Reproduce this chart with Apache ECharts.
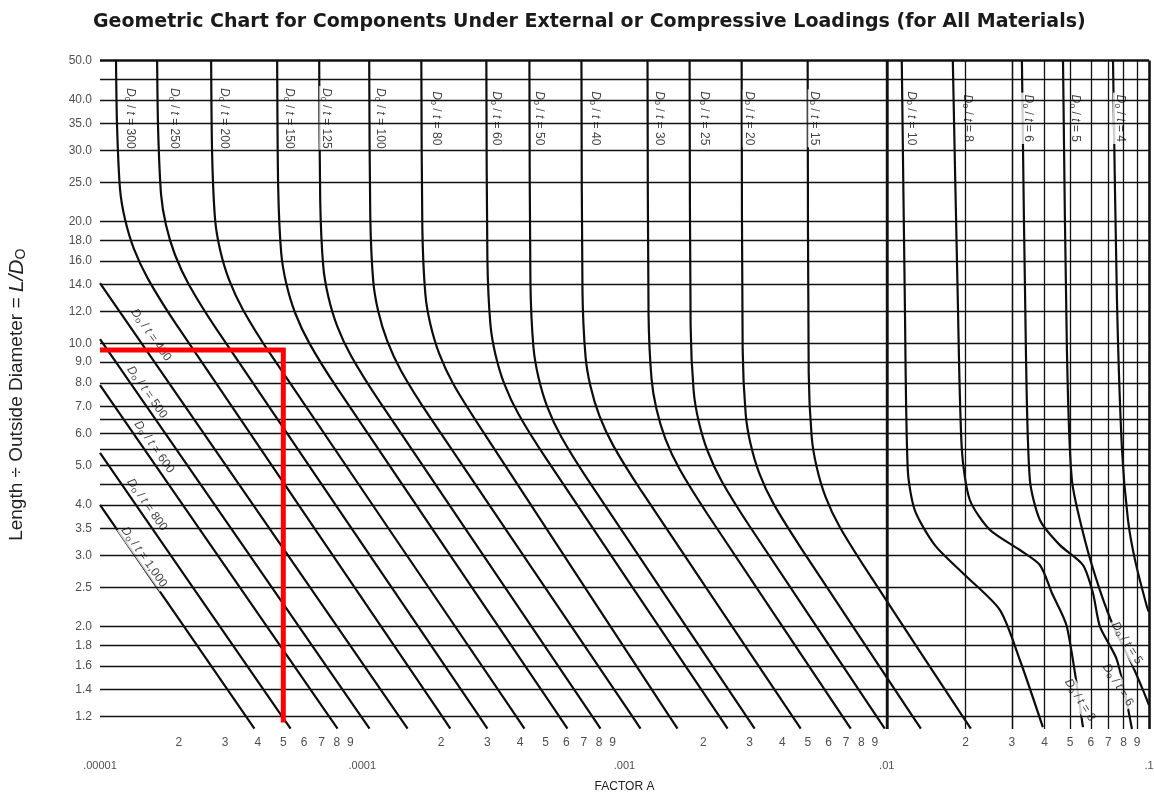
<!DOCTYPE html>
<html><head><meta charset="utf-8">
<script src="https://cdn.jsdelivr.net/npm/echarts@6/dist/echarts.min.js"></script>
<style>html,body{margin:0;padding:0;background:#fff}#c{width:1154px;height:796px}</style>
</head><body><div id="c"></div>
<script>
// ---- axis / tick data ----
const xDecades = [1e-5, 1e-4, 1e-3, 1e-2, 1e-1];
const xDecadeLabels = ['.00001', '.0001', '.001', '.01', '.1'];
const xTickMultipliers = [2, 3, 4, 5, 6, 7, 8, 9];
const xGridMultipliers = [1, 1.5, 2, 2.5, 3, 4, 5, 6, 7, 8, 9];
const yTickValues = [50, 40, 35, 30, 25, 20, 18, 16, 14, 12, 10, 9, 8, 7, 6, 5, 4, 3.5, 3, 2.5, 2, 1.8, 1.6, 1.4, 1.2];
const yGridValues = [45, 40, 35, 30, 25, 20, 18, 16, 14, 12, 10, 9, 8, 7, 6.5, 6, 5.5, 5, 4.5, 4, 3.5, 3, 2.5, 2, 1.8, 1.6, 1.4, 1.2];

// ---- curves: [Factor A, L/Do] ----
const c1000 = [[1e-5,4.0],[3.608e-5,1.2],[3.88e-5,1.12]];
const c800 = [[1e-5,5.37],[4.951e-5,1.2],[5.33e-5,1.12]];
const c600 = [[1e-5,7.9],[7.482e-5,1.2],[8.05e-5,1.12]];
const c500 = [[1e-5,10.26],[9.91e-5,1.2],[1.066e-4,1.12]];
const c400 = [[1e-5,14.11],[1.384e-4,1.2],[1.489e-4,1.12]];
const c300 = [[1.151e-5,50],[1.161e-5,34.8],[1.192e-5,24.1],[1.245e-5,20.3],[1.348e-5,17.1],[1.524e-5,14.45],[1.95e-5,11.17],[2.02e-4,1.2],[2.167e-4,1.12]];
const c250 = [[1.651e-5,50],[1.666e-5,33.7],[1.71e-5,23.3],[1.786e-5,19.6],[1.933e-5,16.55],[2.186e-5,13.96],[2.797e-5,10.8],[2.797e-4,1.2],[3.001e-4,1.12]];
const c200 = [[2.653e-5,50],[2.677e-5,29.2],[2.748e-5,20.2],[2.871e-5,17.03],[3.107e-5,14.36],[3.513e-5,12.11],[4.494e-5,9.36],[3.871e-4,1.2],[4.154e-4,1.12]];
const c150 = [[4.738e-5,50],[4.781e-5,24.2],[4.909e-5,16.74],[5.127e-5,14.11],[5.548e-5,11.9],[6.273e-5,10.04],[8.026e-5,7.76],[5.648e-4,1.2],[6.06e-4,1.12]];
const c125 = [[6.852e-5,50],[6.914e-5,22.5],[7.099e-5,15.55],[7.414e-5,13.11],[8.024e-5,11.05],[9.072e-5,9.32],[1.161e-4,7.21],[7.548e-4,1.2],[8.099e-4,1.12]];
const c100 = [[1.063e-4,50],[1.073e-4,20.6],[1.101e-4,14.28],[1.15e-4,12.04],[1.245e-4,10.15],[1.407e-4,8.56],[1.801e-4,6.62],[1.073e-3,1.2],[1.151e-3,1.12]];
const c80 = [[1.68e-4,50],[1.695e-4,19.2],[1.74e-4,13.27],[1.818e-4,11.18],[1.967e-4,9.43],[2.224e-4,7.95],[2.846e-4,6.15],[1.485e-3,1.2],[1.593e-3,1.12]];
const c60 = [[2.973e-4,50],[3.0e-4,16.17],[3.08e-4,11.19],[3.217e-4,9.43],[3.481e-4,7.95],[3.936e-4,6.71],[5.036e-4,5.19],[2.304e-3,1.2],[2.472e-3,1.12]];
const c50 = [[4.339e-4,50],[4.378e-4,14.18],[4.495e-4,9.81],[4.695e-4,8.27],[5.081e-4,6.97],[5.745e-4,5.88],[7.35e-4,4.55],[2.922e-3,1.2],[3.135e-3,1.12]];
const c40 = [[6.852e-4,50],[6.914e-4,13.48],[7.099e-4,9.33],[7.414e-4,7.86],[8.024e-4,6.63],[9.072e-4,5.59],[1.161e-3,4.32],[4.377e-3,1.2],[4.697e-3,1.12]];
const c30 = [[1.224e-3,50],[1.235e-3,11.82],[1.268e-3,8.18],[1.324e-3,6.89],[1.433e-3,5.81],[1.621e-3,4.9],[2.073e-3,3.79],[6.792e-3,1.2],[7.288e-3,1.12]];
const c25 = [[1.771e-3,50],[1.787e-3,11.05],[1.835e-3,7.65],[1.916e-3,6.45],[2.074e-3,5.43],[2.345e-3,4.58],[3.0e-3,3.54],[9.158e-3,1.2],[9.827e-3,1.12]];
const c20 = [[2.797e-3,50],[2.822e-3,9.69],[2.898e-3,6.7],[3.026e-3,5.65],[3.275e-3,4.76],[3.703e-3,4.02],[4.738e-3,3.11],[1.257e-2,1.2],[1.349e-2,1.12]];
const c15 = [[4.994e-3,50],[5.039e-3,8.5],[5.174e-3,5.88],[5.404e-3,4.96],[5.848e-3,4.18],[6.612e-3,3.53],[8.46e-3,2.73],[1.95e-2,1.2],[2.092e-2,1.12]];
const c10 = [[1.141e-2,50],[1.172e-2,12.81],[1.203e-2,4.87],[1.279e-2,3.88],[1.525e-2,3.18],[1.985e-2,2.683],[2.699e-2,2.2],[3.218e-2,1.655],[3.938e-2,1.13]];
const c8 = [[1.786e-2,50],[1.866e-2,12.81],[1.934e-2,5.46],[2.074e-2,4.11],[2.471e-2,3.47],[3.218e-2,3.093],[3.837e-2,2.84],[4.264e-2,2.422],[4.864e-2,2.0],[5.6e-2,1.13]];
const c6 = [[3.276e-2,50],[3.393e-2,9.64],[3.514e-2,4.61],[3.837e-2,3.67],[4.574e-2,3.18],[5.6e-2,2.84],[6.113e-2,2.422],[6.501e-2,2.0],[7.548e-2,1.655],[8.61e-2,1.118]];
const c5 = [[4.7e-2,50],[4.864e-2,9.64],[5.08e-2,4.61],[5.698e-2,3.27],[6.501e-2,2.46],[7.418e-2,1.963],[8.463e-2,1.655],[9.487e-2,1.395],[0.1,1.281]];
const c4 = [[7.29e-2,50],[7.548e-2,12.81],[7.89e-2,5.46],[8.314e-2,3.67],[8.846e-2,2.92],[9.826e-2,2.236],[0.1,2.175]];

// ---- example read-off (red) ----
const redPath = [[1e-5,9.64],[5e-5,9.64],[5e-5,1.16]];

// ---- curve labels ----
const topLabelText = ['300','250','200','150','125','100','80','60','50','40','30','25','20','15','10','8','6','5','4'];
const topLabelA = [1.301e-5,1.916e-5,2.973e-5,5.265e-5,7.289e-5,1.171e-4,1.916e-4,3.247e-4,4.738e-4,7.75e-4,1.36e-3,2.02e-3,3.0e-3,5.312e-3,1.246e-2,2.038e-2,3.453e-2,5.219e-2,7.75e-2];
const topLabelL = 36.0;
const leftLabelText = ['400','500','600','800','1,000'];
const leftLabelA = [1.565e-5,1.511e-5,1.607e-5,1.511e-5,1.472e-5];
const leftLabelL = [10.5,7.59,5.56,4.0,2.97];
const rightLabelText = ['5','6','8'];
const rightLabelA = [8.24e-2,7.615e-2,5.453e-2];
const rightLabelL = [1.823,1.435,1.318];

const X_MIN = 1e-5, X_MAX = 0.1, Y_MIN = 1.118, Y_MAX = 50;

const curves = [c1000,c800,c600,c500,c400,c300,c250,c200,c150,c125,c100,c80,c60,c50,c40,c30,c25,c20,c15,c10,c8,c6,c5,c4];

const chart = echarts.init(document.getElementById('c'), null, {renderer: 'canvas'});

const gridLines = [];
xDecades.slice(0, 4).forEach(d => xGridMultipliers.forEach(m => {
  if (d === X_MIN && m === 1) return;
  gridLines.push({xAxis: d * m, lineStyle: {width: m === 1 ? 2.4 : 1.3}});
}));
yGridValues.forEach(v => gridLines.push({yAxis: v, lineStyle: {width: 1.4}}));
gridLines.push({xAxis: X_MIN, lineStyle: {width: 3.2}});
gridLines.push({xAxis: X_MAX, lineStyle: {width: 2.6}});
gridLines.push({yAxis: Y_MAX, lineStyle: {width: 2.6}});

const richBase = {
  d: {fontStyle: 'italic', fontSize: 12, fontFamily: 'Liberation Sans', color: '#111'},
  s: {fontSize: 9, fontFamily: 'Liberation Sans', color: '#111', padding: [5, 0, 0, 0]},
  n: {fontSize: 12, fontFamily: 'Liberation Sans', color: '#111'}
};
const lbl = t => '{d|D}{s|o}{n| / }{d|t}{n| = ' + t + '}';

const series = [];
series.push({
  type: 'line', data: [], silent: true, z: 1,
  markLine: {silent: true, symbol: ['none', 'none'], label: {show: false}, animation: false,
    lineStyle: {color: '#111', type: 'solid', width: 1.3}, data: gridLines}
});
curves.forEach(c => series.push({
  type: 'line', data: c, showSymbol: false, smooth: 0.25, silent: true, z: 3, clip: true,
  lineStyle: {color: '#0d0d0d', width: 2.2}
}));
series.push({
  type: 'line', data: redPath, showSymbol: false, silent: true, z: 6,
  lineStyle: {color: '#ff0000', width: 5, cap: 'butt', join: 'miter'}
});
// y tick labels
series.push({
  type: 'scatter', symbolSize: 0, silent: true, clip: false, z: 5,
  data: yTickValues.map(v => [X_MIN, v]),
  label: {show: true, position: 'left', distance: 8, formatter: p => p.value[1].toFixed(1),
    fontFamily: 'Liberation Sans', fontSize: 12, color: '#222'}
});
// x minor tick labels
const xMinor = [];
xDecades.slice(0, 4).forEach(d => xTickMultipliers.forEach(m => xMinor.push([d * m, Y_MIN, m])));
series.push({
  type: 'scatter', symbolSize: 0, silent: true, clip: false, z: 5, data: xMinor,
  label: {show: true, position: 'bottom', distance: 8, formatter: p => String(p.value[2]),
    fontFamily: 'Liberation Sans', fontSize: 12, color: '#222'}
});
series.push({
  type: 'scatter', symbolSize: 0, silent: true, clip: false, z: 5,
  data: xDecades.map((d, i) => [d, Y_MIN, xDecadeLabels[i]]),
  label: {show: true, position: 'bottom', distance: 31, formatter: p => p.value[2],
    fontFamily: 'Liberation Sans', fontSize: 11, color: '#222'}
});
// curve labels
series.push({
  type: 'scatter', symbolSize: 0, silent: true, clip: false, z: 4,
  data: topLabelA.map((a, i) => [a, topLabelL, topLabelText[i]]),
  label: {show: true, position: 'inside', rotate: -90, formatter: p => lbl(p.value[2]),
    backgroundColor: '#fff', padding: [0, 2], rich: richBase}
});
series.push({
  type: 'scatter', symbolSize: 0, silent: true, clip: false, z: 4,
  data: leftLabelA.map((a, i) => [a, leftLabelL[i], leftLabelText[i]]),
  label: {show: true, position: 'inside', rotate: -55, formatter: p => lbl(p.value[2]),
    backgroundColor: '#fff', padding: [0, 2], rich: richBase}
});
series.push({
  type: 'scatter', symbolSize: 0, silent: true, clip: false, z: 4,
  data: rightLabelA.map((a, i) => [a, rightLabelL[i], rightLabelText[i]]),
  label: {show: true, position: 'inside', rotate: -58, formatter: p => lbl(p.value[2]),
    backgroundColor: '#fff', padding: [0, 2], rich: richBase}
});

chart.setOption({
  animation: false,
  backgroundColor: '#fff',
  title: {text: 'Geometric Chart for Components Under External or Compressive Loadings (for All Materials)',
    left: 88, top: 8,
    textStyle: {fontFamily: 'DejaVu Sans', fontWeight: 'bold', fontSize: 19, color: '#1a1a1a'}},
  grid: {left: 100, right: 5, top: 60.5, bottom: 67, containLabel: false, outerBoundsMode: 'none'},
  xAxis: {type: 'log', logBase: 10, min: X_MIN, max: X_MAX,
    axisLine: {show: false}, axisTick: {show: false}, axisLabel: {show: false}, splitLine: {show: false},
    name: 'FACTOR A', nameLocation: 'middle', nameGap: 52,
    nameTextStyle: {fontFamily: 'Liberation Sans', fontSize: 12, color: '#222'}},
  yAxis: {type: 'log', logBase: 10, min: Y_MIN, max: Y_MAX,
    axisLine: {show: false}, axisTick: {show: false}, axisLabel: {show: false}, splitLine: {show: false},
    name: '{n|Length ÷ Outside Diameter = }{i|L/D}{s|O}', nameLocation: 'middle', nameGap: 72, nameRotate: 90,
    nameTextStyle: {rich: {
      n: {fontFamily: 'Liberation Sans', fontSize: 19, color: '#222'},
      i: {fontFamily: 'Liberation Sans', fontStyle: 'italic', fontSize: 21, color: '#222'},
      s: {fontFamily: 'Liberation Sans', fontSize: 14, color: '#222', padding: [8, 0, 0, 0]}}}},
  series: series
});
</script></body></html>
